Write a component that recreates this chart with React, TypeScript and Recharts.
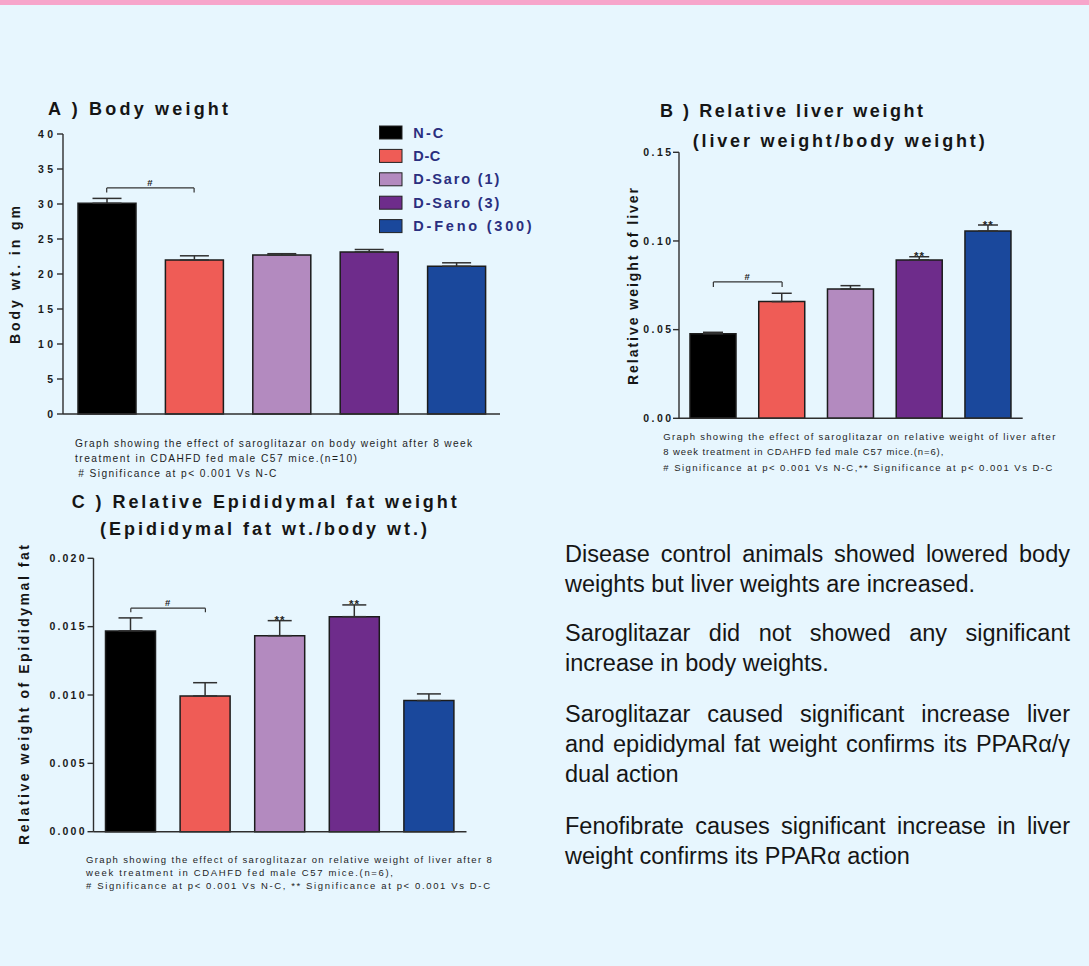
import React from 'react';
import { BarChart, Bar, XAxis, YAxis, Cell, ErrorBar, ReferenceLine, ReferenceDot } from 'recharts';

// Treatment groups and their bar colours
const groups = ['N-C', 'D-C', 'D-Saro (1)', 'D-Saro (3)', 'D-Feno (300)'];
const groupColors = ['#000000', '#EF5C56', '#B38ABF', '#6E2C8B', '#1A489C'];

// A) Body weight (g), mean and SEM
const bodyWeight = [30.1, 22.0, 22.7, 23.15, 21.1];
const bodyWeightSem = [0.7, 0.6, 0.2, 0.35, 0.5];
const bodyWeightTicks = [0, 5, 10, 15, 20, 25, 30, 35, 40];
const bodyWeightSig = ['', '', '', '', ''];

// B) Relative liver weight (liver wt / body wt)
const liverRatio = [0.0477, 0.0658, 0.0729, 0.0893, 0.1056];
const liverRatioSem = [0.0008, 0.0047, 0.0019, 0.0018, 0.0034];
const liverRatioTicks = [0, 0.05, 0.1, 0.15];
const liverRatioSig = ['', '', '', '**', '**'];

// C) Relative epididymal fat weight (fat wt / body wt)
const fatRatio = [0.01469, 0.00993, 0.01434, 0.01573, 0.00959];
const fatRatioSem = [0.00095, 0.00097, 0.0011, 0.00086, 0.00049];
const fatRatioTicks = [0, 0.005, 0.01, 0.015, 0.02];
const fatRatioSig = ['', '', '**', '**', ''];

// "#" brackets (N-C vs D-C): height and tick drop in data units
const bodyBracket = { y: 32.3, drop: 0.65, mark: '#' };
const liverBracket = { y: 0.0769, drop: 0.0028, mark: '#' };
const fatBracket = { y: 0.01635, drop: 0.0003, mark: '#' };

const titleA = ['A ) Body weight'];
const titleB = ['B ) Relative liver weight', '(liver weight/body weight)'];
const titleC = ['C ) Relative Epididymal fat weight', '(Epididymal fat wt./body wt.)'];

const axisTitleA = 'Body wt. in gm';
const axisTitleB = 'Relative weight of liver';
const axisTitleC = 'Relative weight of Epididymal fat';

const captionA = [
  'Graph showing the effect of saroglitazar on body weight after 8 week',
  'treatment in CDAHFD fed male C57 mice.(n=10)',
  '# Significance at p< 0.001 Vs N-C',
];
const captionB = [
  'Graph showing the effect of saroglitazar on relative weight of liver after',
  '8 week treatment in CDAHFD fed male C57 mice.(n=6),',
  '# Significance at p< 0.001 Vs N-C,** Significance at p< 0.001 Vs D-C',
];
const captionC = [
  'Graph showing the effect of saroglitazar on relative weight of liver after 8',
  'week treatment in CDAHFD fed male C57 mice.(n=6),',
  '# Significance at p< 0.001 Vs N-C, ** Significance at p< 0.001 Vs D-C',
];

const notes = [
  ['Disease control animals showed lowered body', 'weights but liver weights are increased.'],
  ['Saroglitazar did not showed any significant', 'increase in body weights.'],
  ['Saroglitazar caused significant increase liver', 'and epididymal fat weight confirms its PPAR\u03B1/\u03B3', 'dual action'],
  ['Fenofibrate causes significant  increase in liver', 'weight confirms its PPAR\u03B1 action'],
];

const FONT = '"Liberation Sans", Arial, Helvetica, sans-serif';
const INK = '#151515';
const AXIS = { stroke: '#2e2e2e', strokeWidth: 1.4 };

type Bracket = { y: number; drop: number; mark: string };
type PanelSpec = {
  left: number; top: number; width: number; height: number;
  marginTop: number; marginRight: number;
  yAxisWidth: number; xAxisHeight: number;
  domain: [number, number]; ticks: number[]; tickDigits: number;
  tickSpacing: number; tickMargin: number;
  values: number[]; sem: number[]; sig: string[];
  barSize: number; capHalf: number; bracket: Bracket;
};

function YTick(props: any) {
  const { x, y, payload, fmt, spacing } = props;
  return (
    <text x={x + spacing} y={y} dy="0.36em" textAnchor="end" fontFamily={FONT} fontSize={10.5}
      fontWeight={700} fill="#1a1a1a" letterSpacing={spacing}>
      {fmt(payload.value)}
    </text>
  );
}

// Small mark drawn centred above a point (bracket "#" or "**")
function markLabel(text: string, size: number, lift: number) {
  return (p: any) => {
    const vb = p.viewBox || {};
    const cx = (vb.x ?? 0) + (vb.width ?? 0) / 2;
    const cy = Math.min(vb.y ?? 0, (vb.y ?? 0) + (vb.height ?? 0));
    return (
      <text x={cx} y={cy - lift} textAnchor="middle" fontFamily={FONT} fontSize={size} fontWeight={700}
        fill="#222" letterSpacing={1}>
        {text}
      </text>
    );
  };
}

function Panel({ spec }: { spec: PanelSpec }) {
  const rows = groups.map((name, i) => ({ name, value: spec.values[i], err: [0, spec.sem[i]] }));
  const fmt = (v: number) => v.toFixed(spec.tickDigits);
  const b = spec.bracket;
  const bracketStyle = { stroke: '#333', strokeWidth: 1.2 };
  return (
    <div style={{ position: 'absolute', left: spec.left, top: spec.top }}>
      <BarChart width={spec.width} height={spec.height} data={rows}
        margin={{ top: spec.marginTop, right: spec.marginRight, bottom: 0, left: 0 }}>
        <XAxis dataKey="name" height={spec.xAxisHeight} tick={false} tickLine={false} axisLine={AXIS} />
        <YAxis type="number" width={spec.yAxisWidth} domain={spec.domain} ticks={spec.ticks} interval={0}
          tickSize={6} tickMargin={spec.tickMargin} axisLine={AXIS} tickLine={AXIS}
          tick={(p: any) => <YTick {...p} fmt={fmt} spacing={spec.tickSpacing} />} />
        <Bar dataKey="value" barSize={spec.barSize} stroke="#1c1c1c" strokeWidth={1.5} isAnimationActive={false}>
          {rows.map((r, i) => <Cell key={r.name} fill={groupColors[i]} />)}
          <ErrorBar dataKey="err" direction="y" width={spec.capHalf} stroke="#303030" strokeWidth={1.5}
            isAnimationActive={false} />
        </Bar>
        <ReferenceLine segment={[{ x: groups[0], y: b.y }, { x: groups[1], y: b.y }]} {...bracketStyle}
          label={{ content: markLabel(b.mark, 9.5, 2) }} />
        <ReferenceLine segment={[{ x: groups[0], y: b.y }, { x: groups[0], y: b.y - b.drop }]} {...bracketStyle} />
        <ReferenceLine segment={[{ x: groups[1], y: b.y }, { x: groups[1], y: b.y - b.drop }]} {...bracketStyle} />
        {rows.map((r, i) =>
          spec.sig[i] ? (
            <ReferenceDot key={'sig' + i} x={r.name} y={r.value + spec.sem[i]} r={0} stroke="none" fill="none"
              label={{ content: markLabel(spec.sig[i], 11.5, -3.5) }} />
          ) : null
        )}
      </BarChart>
    </div>
  );
}

const panelA: PanelSpec = {
  left: 0, top: 90, width: 520, height: 340, marginTop: 44, marginRight: 20,
  yAxisWidth: 63, xAxisHeight: 16, domain: [0, 40], ticks: bodyWeightTicks, tickDigits: 0,
  tickSpacing: 3.3, tickMargin: 4, values: bodyWeight, sem: bodyWeightSem, sig: bodyWeightSig,
  barSize: 58, capHalf: 14.5, bracket: bodyBracket,
};
const panelB: PanelSpec = {
  left: 600, top: 90, width: 440, height: 345, marginTop: 62.3, marginRight: 17.3,
  yAxisWidth: 79, xAxisHeight: 16.7, domain: [0, 0.15], ticks: liverRatioTicks, tickDigits: 2,
  tickSpacing: 2.4, tickMargin: 2, values: liverRatio, sem: liverRatioSem, sig: liverRatioSig,
  barSize: 46, capHalf: 10, bracket: liverBracket,
};
const panelC: PanelSpec = {
  left: 0, top: 480, width: 490, height: 370, marginTop: 78.3, marginRight: 23.5,
  yAxisWidth: 93.5, xAxisHeight: 18.3, domain: [0, 0.02], ticks: fatRatioTicks, tickDigits: 3,
  tickSpacing: 2.2, tickMargin: 3, values: fatRatio, sem: fatRatioSem, sig: fatRatioSig,
  barSize: 50, capHalf: 12, bracket: fatBracket,
};

type TxtProps = {
  x: number; y: number; text: string; size: number; len: number;
  weight?: number; fill?: string; vertical?: boolean;
};
function Txt({ x, y, text, size, len, weight = 400, fill = INK, vertical = false }: TxtProps) {
  return (
    <text x={x} y={y} fontFamily={FONT} fontSize={size} fontWeight={weight} fill={fill}
      dominantBaseline="central" textAnchor={vertical ? 'middle' : 'start'}
      textLength={len} lengthAdjust="spacing"
      transform={vertical ? `rotate(-90 ${x} ${y})` : undefined}
      style={{ whiteSpace: 'pre' }}>
      {text}
    </text>
  );
}

export default function App() {
  return (
    <div style={{ position: 'absolute', left: 0, top: 0, width: 1089, height: 966, background: '#E7F6FE',
      overflow: 'hidden', fontFamily: FONT }}>
      <div style={{ position: 'absolute', left: 0, top: 0, width: 1089, height: 5, background: '#F7A5CB' }} />

      <Panel spec={panelA} />
      <Panel spec={panelB} />
      <Panel spec={panelC} />

      <svg width={1089} height={966} style={{ position: 'absolute', left: 0, top: 0, pointerEvents: 'none' }}>
        {/* panel titles */}
        <Txt x={48} y={109} text={titleA[0]} size={18} weight={700} len={180} />
        <Txt x={660} y={110.7} text={titleB[0]} size={18} weight={700} len={263} />
        <Txt x={692.7} y={140.7} text={titleB[1]} size={18} weight={700} len={292} />
        <Txt x={71.7} y={501.7} text={titleC[0]} size={18} weight={700} len={385} />
        <Txt x={100} y={529} text={titleC[1]} size={18} weight={700} len={327} />

        {/* value-axis titles */}
        <Txt x={15} y={275} text={axisTitleA} size={14} weight={700} len={138} vertical />
        <Txt x={633} y={286.5} text={axisTitleB} size={14} weight={700} len={197} vertical />
        <Txt x={24} y={695} text={axisTitleC} size={14} weight={700} len={300} vertical />

        {/* legend */}
        {groups.map((g, i) => (
          <g key={g}>
            <rect x={379.5} y={126 + i * 23.4} width={22.5} height={13} fill={groupColors[i]} stroke="#222" strokeWidth={1} />
            <Txt x={413.3} y={132.5 + i * 23.4} text={g} size={14.5} weight={700} fill="#2A2F7F"
              len={[30, 27, 86, 86, 118.4][i]} />
          </g>
        ))}

        {/* captions */}
        {captionA.map((t, i) => (
          <Txt key={'a' + i} x={i === 2 ? 78.3 : 75} y={443 + i * 15} text={t} size={10.2} fill="#1e1e1e"
            len={[397, 282, 198][i]} />
        ))}
        {captionB.map((t, i) => (
          <Txt key={'b' + i} x={663.3} y={436.7 + i * 15.2} text={t} size={9.5} fill="#1e1e1e"
            len={[392, 280, 389][i]} />
        ))}
        {captionC.map((t, i) => (
          <Txt key={'c' + i} x={86} y={859 + i * 13.4} text={t} size={9.5} fill="#1e1e1e"
            len={[405.7, 307, 404][i]} />
        ))}
      </svg>

      {notes.map((lines, p) => (
        <div key={p} style={{ position: 'absolute', left: 565, top: [539, 618, 699, 811][p], width: 505,
          fontSize: 23.5, lineHeight: '30px', color: INK }}>
          {lines.map((line, i) => (
            <div key={i} style={{ textAlign: 'justify', textAlignLast: i === lines.length - 1 ? 'left' : 'justify' }}>
              {line}
            </div>
          ))}
        </div>
      ))}
    </div>
  );
}
